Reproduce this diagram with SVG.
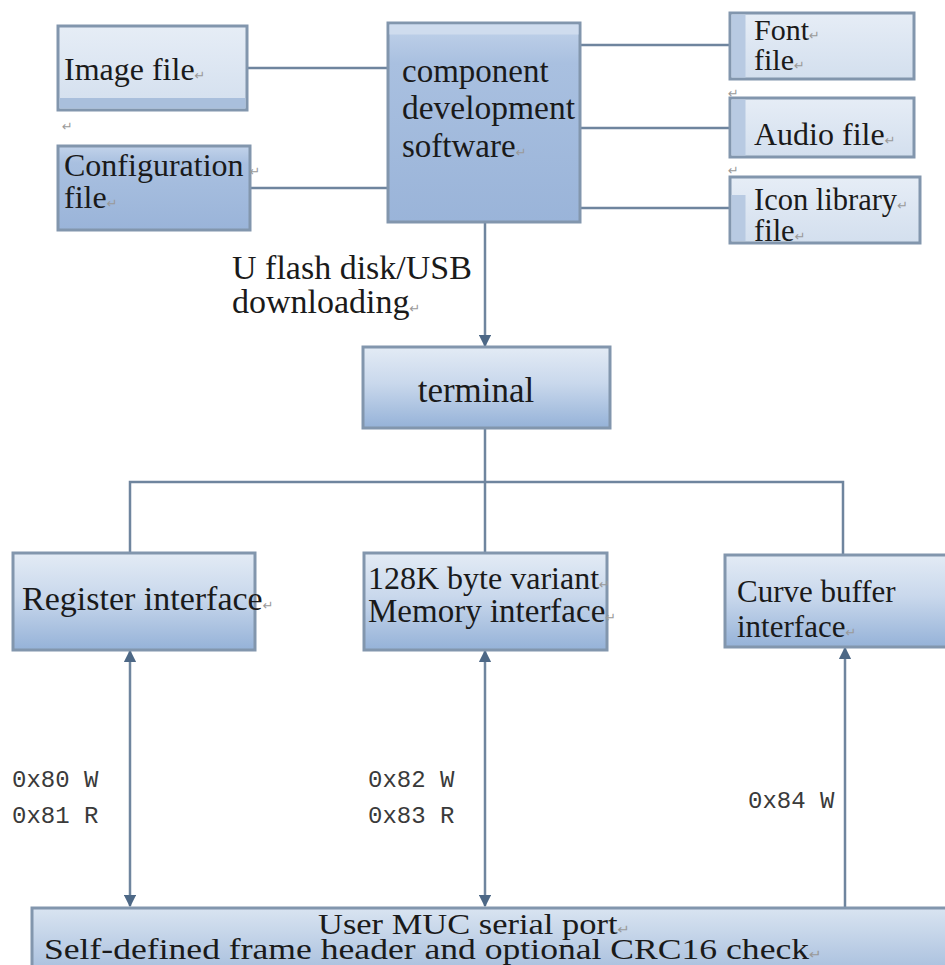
<svg xmlns="http://www.w3.org/2000/svg" width="945" height="965" viewBox="0 0 945 965">
<style>
.t{font-family:"Liberation Serif","Times New Roman",serif;font-size:32px;fill:#1a1a1a}
.m{font-family:"Liberation Mono","Courier New",monospace;font-size:24px;fill:#3a3a3a}
.p{font-family:"DejaVu Sans",sans-serif;font-size:13px;fill:#9a9a9a}
.b{stroke:#8296ad;stroke-width:3}
.c{stroke:#6f859e;stroke-width:2.5;fill:none}
</style>
<defs>
<linearGradient id="gA" x1="0" y1="0" x2="0" y2="1">
<stop offset="0" stop-color="#e3ebf5"/><stop offset="0.45" stop-color="#c9d8ec"/><stop offset="1" stop-color="#95b2d8"/>
</linearGradient>
<linearGradient id="gL" x1="0" y1="0" x2="0" y2="1">
<stop offset="0" stop-color="#e6edf6"/><stop offset="1" stop-color="#d3dfee"/>
</linearGradient>
<linearGradient id="gD" x1="0" y1="0" x2="0" y2="1">
<stop offset="0" stop-color="#c2d3ea"/><stop offset="0.2" stop-color="#a9c0e0"/><stop offset="1" stop-color="#9ab4d9"/>
</linearGradient>
<linearGradient id="gB" x1="0" y1="0" x2="0" y2="1">
<stop offset="0" stop-color="#d9e4f1"/><stop offset="1" stop-color="#a4bcdc"/>
</linearGradient>
<marker id="ah" viewBox="0 0 10 10" refX="9" refY="5" markerWidth="5" markerHeight="5" orient="auto-start-reverse" markerUnits="strokeWidth">
<path d="M0,0 L10,5 L0,10 z" fill="#4d6886"/>
</marker>
</defs>

<g id="connectors">
<line class="c" x1="247" y1="68" x2="388" y2="68"/>
<line class="c" x1="250" y1="188" x2="388" y2="188"/>
<line class="c" x1="580" y1="45" x2="730" y2="45"/>
<line class="c" x1="580" y1="128" x2="730" y2="128"/>
<line class="c" x1="580" y1="208" x2="730" y2="208"/>
<line class="c" x1="485" y1="222" x2="485" y2="346" marker-end="url(#ah)"/>
<polyline class="c" points="485,428 485,482"/>
<polyline class="c" points="130,553 130,482 843,482 843,555"/>
<line class="c" x1="485" y1="482" x2="485" y2="553"/>
<line class="c" x1="130" y1="651" x2="130" y2="906" marker-start="url(#ah)" marker-end="url(#ah)"/>
<line class="c" x1="485" y1="651" x2="485" y2="906" marker-start="url(#ah)" marker-end="url(#ah)"/>
<line class="c" x1="845" y1="908" x2="845" y2="648" marker-end="url(#ah)"/>
</g>

<g id="image-file">
<rect x="58" y="26" width="189" height="84" fill="url(#gL)" class="b"/>
<rect x="59.5" y="98" width="186" height="10.5" fill="#a9bfdc"/>
<text class="t" x="64" y="80">Image file<tspan class="p">↵</tspan></text>
</g>
<text class="p" x="62" y="131">↵</text>

<g id="configuration-file">
<rect x="58" y="146" width="192" height="84" fill="url(#gD)" class="b"/>
<text class="t" x="64" y="176">Configuration<tspan class="p" dx="6">↵</tspan></text>
<text class="t" x="64" y="208">file<tspan class="p">↵</tspan></text>
</g>

<g id="component-development-software">
<rect x="388" y="23" width="192" height="199" fill="url(#gD)" class="b"/>
<rect x="389.5" y="24.5" width="189" height="10" fill="#cfdcee"/>
<text class="t" x="402" y="82" style="font-size:33px">component</text>
<text class="t" x="402" y="119" style="font-size:33.5px">development</text>
<text class="t" x="402" y="157" style="font-size:33px">software<tspan class="p">↵</tspan></text>
</g>

<g id="font-file">
<rect x="730" y="13" width="184" height="66" fill="url(#gL)" class="b"/>
<rect x="731.5" y="14.5" width="14" height="63" fill="#b8cae2"/>
<text class="t" x="754" y="40" style="font-size:30px">Font<tspan class="p">↵</tspan></text>
<text class="t" x="754" y="70" style="font-size:30px">file<tspan class="p">↵</tspan></text>
</g>
<text class="p" x="728" y="98">↵</text>

<g id="audio-file">
<rect x="730" y="98" width="184" height="59" fill="url(#gL)" class="b"/>
<rect x="731.5" y="99.5" width="14" height="56" fill="#b8cae2"/>
<text class="t" x="754" y="145">Audio file<tspan class="p">↵</tspan></text>
</g>
<text class="p" x="728" y="175">↵</text>

<g id="icon-library-file">
<rect x="730" y="177" width="190" height="66" fill="url(#gL)" class="b"/>
<rect x="731.5" y="195" width="14" height="46" fill="#b8cae2"/>
<text class="t" x="754" y="210" style="font-size:30.5px">Icon library<tspan class="p">↵</tspan></text>
<text class="t" x="754" y="241" style="font-size:30.5px">file<tspan class="p">↵</tspan></text>
</g>

<g id="download-label">
<text class="t" x="232" y="279" style="font-size:34px">U flash disk/USB</text>
<text class="t" x="232" y="313" style="font-size:34px">downloading<tspan class="p">↵</tspan></text>
</g>

<g id="terminal">
<rect x="363" y="347" width="247" height="81" fill="url(#gA)" class="b"/>
<text class="t" x="476" y="402" text-anchor="middle" style="font-size:35px">terminal</text>
</g>

<g id="register-interface">
<rect x="13" y="553" width="242" height="97" fill="url(#gA)" class="b"/>
<text class="t" x="22" y="610" style="font-size:34px">Register interface<tspan class="p">↵</tspan></text>
</g>

<g id="memory-interface">
<rect x="364" y="553" width="243" height="97" fill="url(#gA)" class="b"/>
<text class="t" x="368" y="589">128K byte variant<tspan class="p">↵</tspan></text>
<text class="t" x="368" y="622" style="font-size:33px">Memory interface<tspan class="p">↵</tspan></text>
</g>

<g id="curve-buffer-interface">
<rect x="725" y="555" width="225" height="92" fill="url(#gA)" class="b"/>
<text class="t" x="737" y="602" style="font-size:31px">Curve buffer</text>
<text class="t" x="737" y="637" style="font-size:31px">interface<tspan class="p">↵</tspan></text>
</g>

<g id="address-labels">
<text class="m" x="12" y="787">0x80 W</text>
<text class="m" x="12" y="823">0x81 R</text>
<text class="m" x="368" y="787">0x82 W</text>
<text class="m" x="368" y="823">0x83 R</text>
<text class="m" x="748" y="808">0x84 W</text>
</g>

<g id="user-muc-serial-port">
<rect x="32" y="908" width="920" height="70" fill="url(#gB)" class="b"/>
<text class="t" x="318" y="934" style="font-size:30px" textLength="312" lengthAdjust="spacingAndGlyphs">User MUC serial port<tspan class="p">↵</tspan></text>
<text class="t" x="44" y="959" style="font-size:30px" textLength="778" lengthAdjust="spacingAndGlyphs">Self-defined frame header and optional CRC16 check<tspan class="p">↵</tspan></text>
</g>
</svg>
